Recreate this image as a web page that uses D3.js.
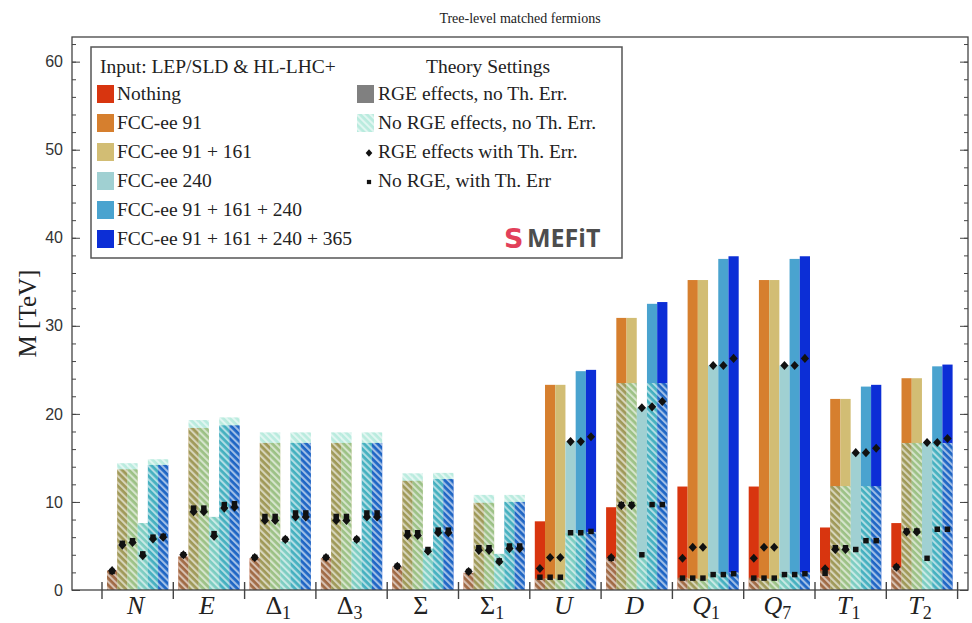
<!DOCTYPE html>
<html>
<head>
<meta charset="utf-8">
<script src="https://cdn.jsdelivr.net/npm/d3@7"></script>
<style>
  body { margin: 0; background: #fff; }
  svg text { font-family: "Liberation Serif", "DejaVu Serif", serif; fill: #222; }
  .ytick text { font-family: "Liberation Sans", Arial, sans-serif; font-size: 16px; fill: #333; }
</style>
</head>
<body>
<svg width="972" height="623"></svg>
<script>
// categories (first char = symbol, rest = subscript)
var categories = ["N", "E", "Δ1", "Δ3", "Σ", "Σ1", "U", "D", "Q1", "Q7", "T1", "T2"];
var datasets = ["Nothing", "FCC-ee 91", "FCC-ee 91 + 161", "FCC-ee 240", "FCC-ee 91 + 161 + 240", "FCC-ee 91 + 161 + 240 + 365"];
var colors = ["#d8350f", "#d67f2e", "#d2bd74", "#a0d0d2", "#4aa3cf", "#0c2ed6"];
var yTicks = [0, 10, 20, 30, 40, 50, 60];

// RGE effects, no Th. Err. (solid bars)
var rgeNoErr = [
  [2.2, 13.7, 13.7, 7.6, 14.2, 14.2],
  [3.8, 18.4, 18.4, 8.3, 18.7, 18.7],
  [3.6, 16.7, 16.7, 5.5, 16.7, 16.7],
  [3.6, 16.7, 16.7, 5.5, 16.7, 16.7],
  [2.65, 12.4, 12.4, 4.7, 12.6, 12.6],
  [1.95, 9.9, 9.9, 4.1, 10.0, 10.0],
  [7.8, 23.3, 23.3, 16.85, 24.85, 25.0],
  [9.4, 30.9, 30.9, 20.7, 32.5, 32.7],
  [11.75, 35.2, 35.2, 25.5, 37.6, 37.9],
  [11.75, 35.2, 35.2, 25.5, 37.6, 37.9],
  [7.1, 21.7, 21.7, 15.6, 23.1, 23.3],
  [7.6, 24.05, 24.05, 16.7, 25.4, 25.6]
];
// No RGE effects, no Th. Err. (hatched bars)
var noRgeNoErr = [
  [2.2, 14.4, 14.4, 7.6, 14.85, 14.85],
  [3.8, 19.3, 19.3, 8.3, 19.6, 19.6],
  [3.6, 17.9, 17.9, 5.5, 17.9, 17.9],
  [3.6, 17.9, 17.9, 5.5, 17.9, 17.9],
  [2.65, 13.25, 13.25, 4.7, 13.3, 13.3],
  [1.95, 10.8, 10.8, 4.1, 10.8, 10.8],
  [1.3, 1.3, 1.3, 6.45, 6.45, 6.6],
  [3.7, 23.5, 23.5, 4.0, 23.5, 23.5],
  [1.4, 1.3, 1.3, 1.9, 1.9, 2.0],
  [1.4, 1.3, 1.3, 1.9, 1.9, 2.0],
  [2.2, 11.8, 11.8, 4.6, 11.8, 11.8],
  [2.6, 16.7, 16.7, 3.6, 16.7, 16.7]
];
// RGE effects with Th. Err. (diamonds)
var rgeErr = [
  [2.2, 5.1, 5.4, 3.9, 5.8, 6.0],
  [4.0, 8.9, 8.9, 6.1, 9.3, 9.4],
  [3.7, 7.9, 7.9, 5.75, 8.3, 8.3],
  [3.7, 7.9, 7.9, 5.75, 8.3, 8.3],
  [2.7, 6.2, 6.2, 4.4, 6.5, 6.5],
  [2.1, 4.5, 4.5, 3.2, 4.7, 4.7],
  [2.45, 3.7, 3.7, 16.85, 16.85, 17.4],
  [3.7, 9.6, 9.6, 20.7, 20.8, 21.4],
  [3.6, 4.85, 4.85, 25.5, 25.5, 26.3],
  [3.6, 4.85, 4.85, 25.5, 25.5, 26.3],
  [2.4, 4.6, 4.6, 15.6, 15.6, 16.1],
  [2.6, 6.6, 6.6, 16.75, 16.75, 17.2]
];
// No RGE, with Th. Err (squares)
var noRgeErr = [
  [2.1, 5.3, 5.6, 4.1, 6.0, 6.1],
  [4.0, 9.3, 9.3, 6.4, 9.7, 9.8],
  [3.7, 8.35, 8.35, 5.75, 8.75, 8.75],
  [3.7, 8.35, 8.35, 5.75, 8.75, 8.75],
  [2.7, 6.5, 6.5, 4.6, 6.8, 6.8],
  [2.1, 4.8, 4.8, 3.3, 5.0, 5.0],
  [1.45, 1.45, 1.45, 6.5, 6.5, 6.65],
  [3.6, 9.7, 9.7, 4.0, 9.7, 9.7],
  [1.35, 1.35, 1.35, 1.75, 1.75, 1.85],
  [1.35, 1.35, 1.35, 1.75, 1.75, 1.85],
  [1.9, 4.8, 4.8, 4.6, 5.6, 5.6],
  [2.6, 6.7, 6.7, 3.6, 6.9, 6.9]
];

var svg = d3.select("svg");
var frame = {left: 72, right: 968, top: 37, bottom: 590};

var y = d3.scaleLinear().domain([0, 62.8]).range([frame.bottom, frame.top]);
var x0 = d3.scaleBand().domain(categories).range([102, 957.6]);
var x1 = d3.scaleBand().domain(d3.range(datasets.length)).range([5, x0.bandwidth() - 5]);

// square-ish diamond marker
var diamond = {
  draw: function(ctx, size) {
    var r = Math.sqrt(size / 2);
    ctx.moveTo(0, -r * 1.1);
    ctx.lineTo(r, 0);
    ctx.lineTo(0, r * 1.1);
    ctx.lineTo(-r, 0);
    ctx.closePath();
  }
};

// hatch pattern
var defs = svg.append("defs");
var pat = defs.append("pattern")
  .attr("id", "hatch")
  .attr("patternUnits", "userSpaceOnUse")
  .attr("width", 4.8).attr("height", 4.8)
  .attr("patternTransform", "rotate(-45)");
pat.append("rect").attr("width", 4.8).attr("height", 4.8)
  .attr("fill", "#3cc9a5").attr("fill-opacity", 0.36);
pat.append("rect").attr("width", 2.1).attr("height", 4.8)
  .attr("fill", "#fff").attr("fill-opacity", 0.58);

// title
svg.append("text").attr("x", (frame.left + frame.right) / 2).attr("y", 23)
  .attr("text-anchor", "middle").style("font-size", "14px")
  .text("Tree-level matched fermions");

// y label
svg.append("text")
  .attr("transform", "translate(36," + ((frame.top + frame.bottom) / 2) + ") rotate(-90)")
  .attr("text-anchor", "middle").style("font-size", "25px")
  .text("M [TeV]");

// bars
var groups = svg.selectAll("g.cat")
  .data(categories)
  .enter().append("g")
  .attr("class", "cat")
  .attr("transform", function(d) { return "translate(" + x0(d) + ",0)"; });

groups.each(function(cat, ci) {
  var g = d3.select(this);
  var rows = datasets.map(function(ds, di) {
    return {di: di, solid: rgeNoErr[ci][di], hatch: noRgeNoErr[ci][di], dia: rgeErr[ci][di], sq: noRgeErr[ci][di]};
  });
  g.selectAll("rect.solid").data(rows).enter().append("rect")
    .attr("class", "solid")
    .attr("x", function(d) { return x1(d.di); })
    .attr("width", x1.bandwidth())
    .attr("y", function(d) { return y(d.solid); })
    .attr("height", function(d) { return y(0) - y(d.solid); })
    .attr("fill", function(d) { return colors[d.di]; });
  g.selectAll("rect.hatch").data(rows).enter().append("rect")
    .attr("class", "hatch")
    .attr("x", function(d) { return x1(d.di); })
    .attr("width", x1.bandwidth())
    .attr("y", function(d) { return y(d.hatch); })
    .attr("height", function(d) { return y(0) - y(d.hatch); })
    .attr("fill", "url(#hatch)");
  g.selectAll("path.sq").data(rows).enter().append("path")
    .attr("class", "sq")
    .attr("d", d3.symbol(d3.symbolSquare, 30))
    .attr("transform", function(d) { return "translate(" + (x1(d.di) + x1.bandwidth() / 2) + "," + y(d.sq) + ")"; })
    .attr("fill", "#111");
  g.selectAll("path.dia").data(rows).enter().append("path")
    .attr("class", "dia")
    .attr("d", d3.symbol(diamond, 34))
    .attr("transform", function(d) { return "translate(" + (x1(d.di) + x1.bandwidth() / 2) + "," + y(d.dia) + ")"; })
    .attr("fill", "#111");
});

// frame
svg.append("rect")
  .attr("x", frame.left).attr("y", frame.top)
  .attr("width", frame.right - frame.left).attr("height", frame.bottom - frame.top)
  .attr("fill", "none").attr("stroke", "#444").attr("stroke-width", 1.3);

// y axis (ticks pointing inward)
var yAxis = d3.axisLeft(y).tickValues(yTicks).tickSize(-8).tickPadding(9);
var ya = svg.append("g").attr("class", "ytick").attr("transform", "translate(" + frame.left + ",0)").call(yAxis);
ya.select(".domain").remove();
ya.selectAll("line").attr("stroke", "#444");
var minor = d3.range(0, 63, 2);
svg.append("g").attr("transform", "translate(" + frame.left + ",0)")
  .call(d3.axisLeft(y).tickValues(minor).tickSize(-4).tickFormat(""))
  .call(function(s) { s.select(".domain").remove(); s.selectAll("line").attr("stroke", "#444"); });
svg.append("g").attr("transform", "translate(" + frame.right + ",0)")
  .call(d3.axisRight(y).tickValues(minor).tickSize(-4).tickFormat(""))
  .call(function(s) { s.select(".domain").remove(); s.selectAll("line").attr("stroke", "#444"); });
svg.append("g").attr("transform", "translate(" + frame.right + ",0)")
  .call(d3.axisRight(y).tickValues(yTicks).tickSize(-8).tickFormat(""))
  .call(function(s) { s.select(".domain").remove(); s.selectAll("line").attr("stroke", "#444"); });

// x separators
var seps = categories.map(function(c) { return x0(c); }).concat([x0.range()[1]]);
svg.selectAll("line.sep").data(seps).enter().append("line")
  .attr("x1", function(d) { return d; }).attr("x2", function(d) { return d; })
  .attr("y1", frame.bottom - 8).attr("y2", frame.bottom + 9)
  .attr("stroke", "#444").attr("stroke-width", 1.4);

// x labels
var greek = /[ΔΣ]/;
var xl = svg.selectAll("text.xl").data(categories).enter().append("text")
  .attr("class", "xl")
  .attr("x", function(d) { return x0(d) + x0.bandwidth() / 2 - 2; })
  .attr("y", 614)
  .attr("text-anchor", "middle")
  .style("font-size", "26px");
xl.append("tspan")
  .style("font-style", function(d) { return greek.test(d[0]) ? "normal" : "italic"; })
  .text(function(d) { return d[0]; });
xl.append("tspan")
  .attr("dy", 5).style("font-size", "18px")
  .text(function(d) { return d.slice(1); });

// legend
var leg = svg.append("g");
leg.append("rect").attr("x", 91).attr("y", 47).attr("width", 531).attr("height", 211)
  .attr("fill", "#fff").attr("stroke", "#555").attr("stroke-width", 1.5);
leg.append("text").attr("x", 100).attr("y", 73).style("font-size", "19.5px")
  .text("Input: LEP/SLD & HL-LHC+");
leg.append("text").attr("x", 488).attr("y", 73).attr("text-anchor", "middle").style("font-size", "19.5px")
  .text("Theory Settings");
var li = leg.selectAll("g.li").data(datasets).enter().append("g")
  .attr("transform", function(d, i) { return "translate(97," + (94 + 29 * i) + ")"; });
li.append("rect").attr("x", 0).attr("y", -9).attr("width", 17).attr("height", 18)
  .attr("fill", function(d, i) { return colors[i]; });
li.append("text").attr("x", 20).attr("y", 6).style("font-size", "19.5px")
  .text(function(d) { return d; });

var theory = ["RGE effects, no Th. Err.", "No RGE effects, no Th. Err.", "RGE effects with Th. Err.", "No RGE, with Th. Err"];
var ti = leg.selectAll("g.ti").data(theory).enter().append("g")
  .attr("transform", function(d, i) { return "translate(357," + (94 + 29 * i) + ")"; });
ti.append("text").attr("x", 21).attr("y", 6).style("font-size", "19.5px").text(function(d) { return d; });
ti.filter(function(d, i) { return i === 0; }).append("rect")
  .attr("x", 0).attr("y", -9).attr("width", 17).attr("height", 18).attr("fill", "#808080");
ti.filter(function(d, i) { return i === 1; }).append("rect")
  .attr("x", 0).attr("y", -9).attr("width", 17).attr("height", 18).attr("fill", "url(#hatch)");
ti.filter(function(d, i) { return i === 2; }).append("path")
  .attr("d", d3.symbol(diamond, 22)).attr("transform", "translate(12,1)").attr("fill", "#111");
ti.filter(function(d, i) { return i === 3; }).append("path")
  .attr("d", d3.symbol(d3.symbolSquare, 18)).attr("transform", "translate(12,1)").attr("fill", "#111");

// SMEFiT logo
leg.append("text").attr("x", 504).attr("y", 248)
  .style("font-family", "'DejaVu Sans', sans-serif").style("font-weight", "bold")
  .style("font-size", "27px").style("fill", "#e2405a").text("S");
leg.append("text").attr("x", 527).attr("y", 247)
  .style("font-family", "'Open Sans', 'DejaVu Sans', sans-serif").style("font-weight", "bold")
  .style("font-size", "25px").style("fill", "#4d4d4d").text("MEFiT");
</script>
</body>
</html>
